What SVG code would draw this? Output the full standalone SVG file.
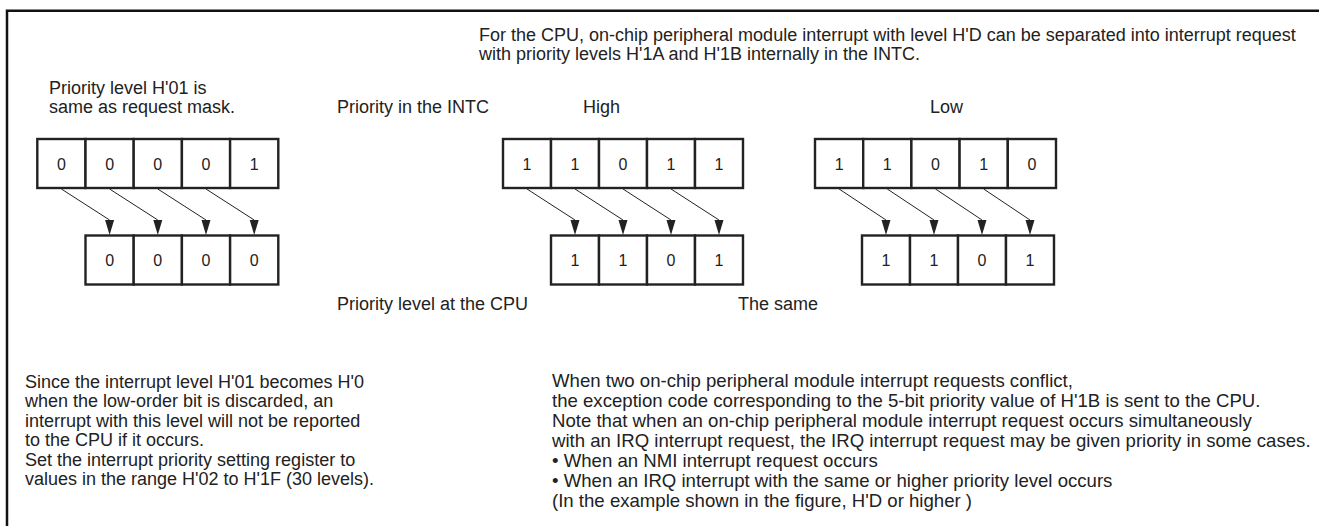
<svg xmlns="http://www.w3.org/2000/svg" width="1319" height="526" viewBox="0 0 1319 526">
<defs>
<style>
text{font-family:"Liberation Sans",Arial,sans-serif;fill:#222;}
.t{font-size:18px;}
.r{font-size:18.6px;}
.d{font-size:16px;text-anchor:middle;}
.cell{fill:#fff;stroke:#222;stroke-width:2.4;}
.ln{stroke:#222;stroke-width:1;fill:none;}
.frame{stroke:#111;stroke-width:2.5;fill:none;}
</style>
<path id="ah" d="M-4.5,0 L4.5,0 L0,15 Z" fill="#222"/>
</defs>
<rect width="1319" height="526" fill="#fff"/>
<path class="frame" d="M7,526 V10.7 H1319"/>

<g id="labels">
<text class="t" x="479" y="41">For the CPU, on-chip peripheral module interrupt with level H'D can be separated into interrupt request</text>
<text class="t" x="479" y="60">with priority levels H'1A and H'1B internally in the INTC.</text>
<text class="t" x="49" y="94">Priority level H'01 is</text>
<text class="t" x="49" y="113">same as request mask.</text>
<text class="t" x="337" y="113">Priority in the INTC</text>
<text class="t" x="583" y="113">High</text>
<text class="t" x="930" y="113">Low</text>
<text class="t" x="337" y="310">Priority level at the CPU</text>
<text class="t" x="738" y="310">The same</text>
</g>

<g id="node-left-top">
<rect class="cell" x="37.3" y="139" width="48.2" height="49"/>
<rect class="cell" x="85.5" y="139" width="48.2" height="49"/>
<rect class="cell" x="133.7" y="139" width="48.2" height="49"/>
<rect class="cell" x="181.9" y="139" width="48.2" height="49"/>
<rect class="cell" x="230.1" y="139" width="48.2" height="49"/>
<text class="d" x="61.4" y="169.5">0</text>
<text class="d" x="109.6" y="169.5">0</text>
<text class="d" x="157.8" y="169.5">0</text>
<text class="d" x="206" y="169.5">0</text>
<text class="d" x="254.2" y="169.5">1</text>
</g>
<g id="node-left-bottom">
<rect class="cell" x="85.5" y="235.5" width="48.2" height="49"/>
<rect class="cell" x="133.7" y="235.5" width="48.2" height="49"/>
<rect class="cell" x="181.9" y="235.5" width="48.2" height="49"/>
<rect class="cell" x="230.1" y="235.5" width="48.2" height="49"/>
<text class="d" x="109.6" y="266">0</text>
<text class="d" x="157.8" y="266">0</text>
<text class="d" x="206" y="266">0</text>
<text class="d" x="254.2" y="266">0</text>
</g>

<g id="node-mid-top">
<rect class="cell" x="503" y="139" width="48" height="49"/>
<rect class="cell" x="551" y="139" width="48" height="49"/>
<rect class="cell" x="599" y="139" width="48" height="49"/>
<rect class="cell" x="647" y="139" width="48" height="49"/>
<rect class="cell" x="695" y="139" width="48" height="49"/>
<text class="d" x="527" y="169.5">1</text>
<text class="d" x="575" y="169.5">1</text>
<text class="d" x="623" y="169.5">0</text>
<text class="d" x="671" y="169.5">1</text>
<text class="d" x="719" y="169.5">1</text>
</g>
<g id="node-mid-bottom">
<rect class="cell" x="551" y="235.5" width="48" height="49"/>
<rect class="cell" x="599" y="235.5" width="48" height="49"/>
<rect class="cell" x="647" y="235.5" width="48" height="49"/>
<rect class="cell" x="695" y="235.5" width="48" height="49"/>
<text class="d" x="575" y="266">1</text>
<text class="d" x="623" y="266">1</text>
<text class="d" x="671" y="266">0</text>
<text class="d" x="719" y="266">1</text>
</g>

<g id="node-right-top">
<rect class="cell" x="815" y="139" width="48.2" height="49"/>
<rect class="cell" x="863.2" y="139" width="48.2" height="49"/>
<rect class="cell" x="911.4" y="139" width="48.2" height="49"/>
<rect class="cell" x="959.6" y="139" width="48.2" height="49"/>
<rect class="cell" x="1007.8" y="139" width="48.2" height="49"/>
<text class="d" x="839.1" y="169.5">1</text>
<text class="d" x="887.3" y="169.5">1</text>
<text class="d" x="935.5" y="169.5">0</text>
<text class="d" x="983.7" y="169.5">1</text>
<text class="d" x="1031.9" y="169.5">0</text>
</g>
<g id="node-right-bottom">
<rect class="cell" x="862" y="235.5" width="48" height="49"/>
<rect class="cell" x="910" y="235.5" width="48" height="49"/>
<rect class="cell" x="958" y="235.5" width="48" height="49"/>
<rect class="cell" x="1006" y="235.5" width="48" height="49"/>
<text class="d" x="886" y="266">1</text>
<text class="d" x="934" y="266">1</text>
<text class="d" x="982" y="266">0</text>
<text class="d" x="1030" y="266">1</text>
</g>

<g id="connectors">
<path class="ln" d="M61.4,189 L109.6,220 M109.6,189 L157.8,220 M157.8,189 L206,220 M206,189 L254.2,220"/>
<use href="#ah" x="109.6" y="220"/><use href="#ah" x="157.8" y="220"/><use href="#ah" x="206" y="220"/><use href="#ah" x="254.2" y="220"/>
<path class="ln" d="M527,189 L575,220 M575,189 L623,220 M623,189 L671,220 M671,189 L719,220"/>
<use href="#ah" x="575" y="220"/><use href="#ah" x="623" y="220"/><use href="#ah" x="671" y="220"/><use href="#ah" x="719" y="220"/>
<path class="ln" d="M839.1,189 L886,220 M887.3,189 L934,220 M935.5,189 L982,220 M983.7,189 L1030,220"/>
<use href="#ah" x="886" y="220"/><use href="#ah" x="934" y="220"/><use href="#ah" x="982" y="220"/><use href="#ah" x="1030" y="220"/>
</g>

<g id="note-left">
<text class="t" x="25" y="388">Since the interrupt level H'01 becomes H'0</text>
<text class="t" x="25" y="407.4">when the low-order bit is discarded, an</text>
<text class="t" x="25" y="426.8">interrupt with this level will not be reported</text>
<text class="t" x="25" y="446.2">to the CPU if it occurs.</text>
<text class="t" x="25" y="465.6">Set the interrupt priority setting register to</text>
<text class="t" x="25" y="485">values in the range H'02 to H'1F (30 levels).</text>
</g>

<g id="note-right">
<text class="r" x="552" y="387">When two on-chip peripheral module interrupt requests conflict,</text>
<text class="r" x="552" y="407">the exception code corresponding to the 5-bit priority value of H'1B is sent to the CPU.</text>
<text class="r" x="552" y="427">Note that when an on-chip peripheral module interrupt request occurs simultaneously</text>
<text class="r" x="552" y="447">with an IRQ interrupt request, the IRQ interrupt request may be given priority in some cases.</text>
<text class="r" x="552" y="467">• When an NMI interrupt request occurs</text>
<text class="r" x="552" y="487">• When an IRQ interrupt with the same or higher priority level occurs</text>
<text class="r" x="552" y="507"> (In the example shown in the figure, H'D or higher )</text>
</g>
</svg>
